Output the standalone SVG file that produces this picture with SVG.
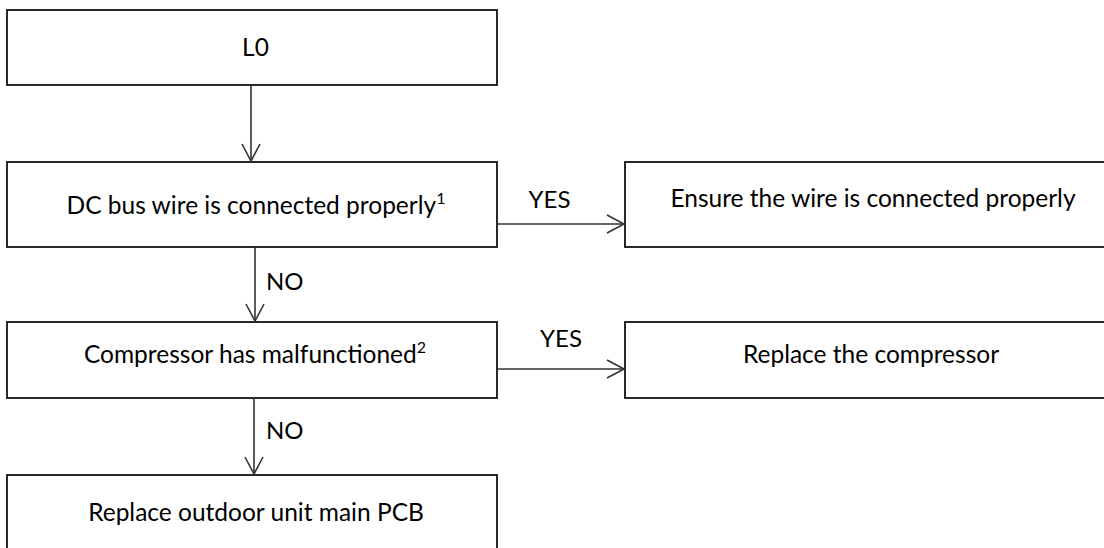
<svg xmlns="http://www.w3.org/2000/svg" width="1104" height="548" viewBox="0 0 1104 548">
  <style>
    .box { fill: #ffffff; stroke: #111111; stroke-width: 1.8; }
    .lbl { font-family: Lato, "Open Sans", "Liberation Sans", sans-serif; font-size: 24.5px; fill: #000000; text-anchor: middle; }
    .edge { font-family: Lato, "Open Sans", "Liberation Sans", sans-serif; font-size: 24px; fill: #000000; }
    .sup { font-size: 16px; }
    .conn { fill: none; stroke: #333333; stroke-width: 1.6; }
  </style>
  <defs>
    <marker id="arrow" markerUnits="userSpaceOnUse" markerWidth="20" markerHeight="22" refX="18" refY="10" orient="auto" viewBox="0 0 20 20">
      <path d="M1,1 L18,10 L1,19" fill="none" stroke="#333333" stroke-width="1.6"/>
    </marker>
  </defs>
  <rect x="0" y="0" width="1104" height="548" fill="#ffffff"/>

  <g id="node-l0">
    <rect class="box" x="7" y="10" width="490" height="75"/>
    <text class="lbl" x="255.5" y="55.5">L0</text>
  </g>
  <g id="node-dcbus">
    <rect class="box" x="7" y="162" width="490" height="85"/>
    <text class="lbl" x="256" y="214">DC bus wire is connected properly<tspan class="sup" dy="-10">1</tspan></text>
  </g>
  <g id="node-ensure">
    <rect class="box" x="625" y="162" width="490" height="85"/>
    <text class="lbl" x="873" y="207">Ensure the wire is connected properly</text>
  </g>
  <g id="node-compressor">
    <rect class="box" x="7" y="322" width="490" height="76"/>
    <text class="lbl" x="255" y="363">Compressor has malfunctioned<tspan class="sup" dy="-10">2</tspan></text>
  </g>
  <g id="node-replace-comp">
    <rect class="box" x="625" y="322" width="490" height="76"/>
    <text class="lbl" x="871" y="363">Replace the compressor</text>
  </g>
  <g id="node-pcb">
    <rect class="box" x="7" y="475" width="490" height="90"/>
    <text class="lbl" x="256" y="521">Replace outdoor unit main PCB</text>
  </g>

  <g id="connectors">
    <line class="conn" x1="251" y1="85" x2="251" y2="161" marker-end="url(#arrow)"/>
    <line class="conn" x1="255" y1="247" x2="255" y2="321" marker-end="url(#arrow)"/>
    <line class="conn" x1="254" y1="398" x2="254" y2="474" marker-end="url(#arrow)"/>
    <line class="conn" x1="497" y1="224" x2="624" y2="224" marker-end="url(#arrow)"/>
    <line class="conn" x1="497" y1="369" x2="624" y2="369" marker-end="url(#arrow)"/>
    <text class="edge" x="549.5" y="208" text-anchor="middle">YES</text>
    <text class="edge" x="561" y="347" text-anchor="middle">YES</text>
    <text class="edge" x="266" y="290">NO</text>
    <text class="edge" x="266" y="439">NO</text>
  </g>
</svg>
